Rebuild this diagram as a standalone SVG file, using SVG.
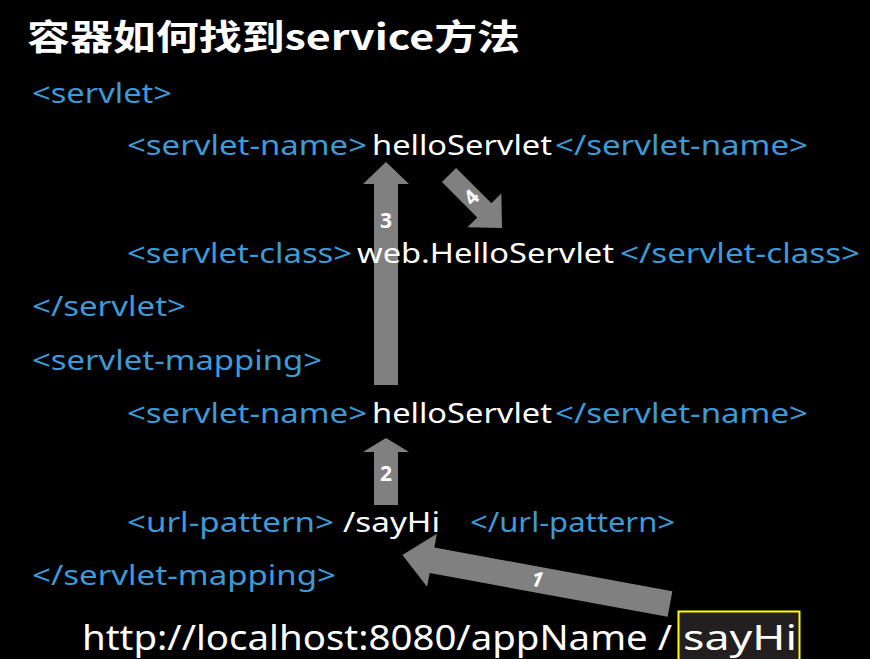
<svg xmlns="http://www.w3.org/2000/svg" width="870" height="659" viewBox="0 0 870 659">
<style>
text{font-family:"Noto Sans","Open Sans","Noto Sans CJK SC",sans-serif;}
.b{fill:#3d9ad8;font-size:28px;}
.w{fill:#ffffff;font-size:28px;}
.u{fill:#ffffff;font-size:35px;}
.t{fill:#ffffff;font-size:35px;font-weight:bold;font-family:"Noto Sans CJK SC","Noto Sans",sans-serif;}
.n{fill:#ffffff;font-size:21px;font-weight:bold;text-anchor:middle;}
.ar{fill:#808080;}
</style>
<rect width="870" height="659" fill="#000"/>
<g id="connectors">
<g id="arrow1" transform="translate(670,604) rotate(190.4)">
<polygon class="ar" points="0,-13 242,-13 242,-27 272,0 242,27 242,13 0,13"/>
<text class="n" x="135" y="7" transform="rotate(180 135 0)" font-style="italic">1</text>
</g>
<g id="arrow2"><polygon class="ar" points="374,505 374,452 363,452 386,438 409,452 398,452 398,505"/>
<text class="n" x="386" y="481">2</text></g>
<g id="arrow3"><polygon class="ar" points="374,385 374,184 363,184 386,162 409,184 398,184 398,385"/>
<text class="n" x="386" y="228">3</text></g>
<g id="arrow4" transform="translate(449,175) rotate(45)">
<polygon class="ar" points="0,-10 50,-10 50,-24 75,0 50,24 50,10 0,10"/>
<text class="n" x="32" y="7" transform="rotate(-90 32 0)">4</text>
</g>
</g>
<g id="title"><text class="t" x="27" y="50" textLength="493" lengthAdjust="spacingAndGlyphs">容器如何找到service方法</text></g>
<g id="code">
<text class="b" x="32" y="103" textLength="140" lengthAdjust="spacingAndGlyphs">&lt;servlet&gt;</text>
<text class="b" x="127" y="155" textLength="240" lengthAdjust="spacingAndGlyphs">&lt;servlet-name&gt;</text>
<text class="w" x="372" y="155" textLength="180" lengthAdjust="spacingAndGlyphs">helloServlet</text>
<text class="b" x="555" y="155" textLength="253" lengthAdjust="spacingAndGlyphs">&lt;/servlet-name&gt;</text>
<text class="b" x="127" y="263" textLength="225" lengthAdjust="spacingAndGlyphs">&lt;servlet-class&gt;</text>
<text class="w" x="357" y="263" textLength="257" lengthAdjust="spacingAndGlyphs">web.HelloServlet</text>
<text class="b" x="620" y="263" textLength="240" lengthAdjust="spacingAndGlyphs">&lt;/servlet-class&gt;</text>
<text class="b" x="32" y="316" textLength="154" lengthAdjust="spacingAndGlyphs">&lt;/servlet&gt;</text>
<text class="b" x="32" y="370" textLength="290" lengthAdjust="spacingAndGlyphs">&lt;servlet-mapping&gt;</text>
<text class="b" x="127" y="423" textLength="240" lengthAdjust="spacingAndGlyphs">&lt;servlet-name&gt;</text>
<text class="w" x="372" y="423" textLength="180" lengthAdjust="spacingAndGlyphs">helloServlet</text>
<text class="b" x="555" y="423" textLength="253" lengthAdjust="spacingAndGlyphs">&lt;/servlet-name&gt;</text>
<text class="b" x="127" y="532" textLength="207" lengthAdjust="spacingAndGlyphs">&lt;url-pattern&gt;</text>
<text class="w" x="343" y="532" textLength="97" lengthAdjust="spacingAndGlyphs">/sayHi</text>
<text class="b" x="470" y="532" textLength="205" lengthAdjust="spacingAndGlyphs">&lt;/url-pattern&gt;</text>
<text class="b" x="32" y="585" textLength="304" lengthAdjust="spacingAndGlyphs">&lt;/servlet-mapping&gt;</text>
</g>
<g id="url">
<text class="u" x="82" y="650" textLength="590" lengthAdjust="spacingAndGlyphs">http://localhost:8080/appName /</text>
<rect x="678.5" y="611.5" width="121" height="50" fill="#231f20" stroke="#ffff00" stroke-width="2"/>
<text class="u" x="683" y="650" textLength="114" lengthAdjust="spacingAndGlyphs">sayHi</text>
</g>
</svg>
